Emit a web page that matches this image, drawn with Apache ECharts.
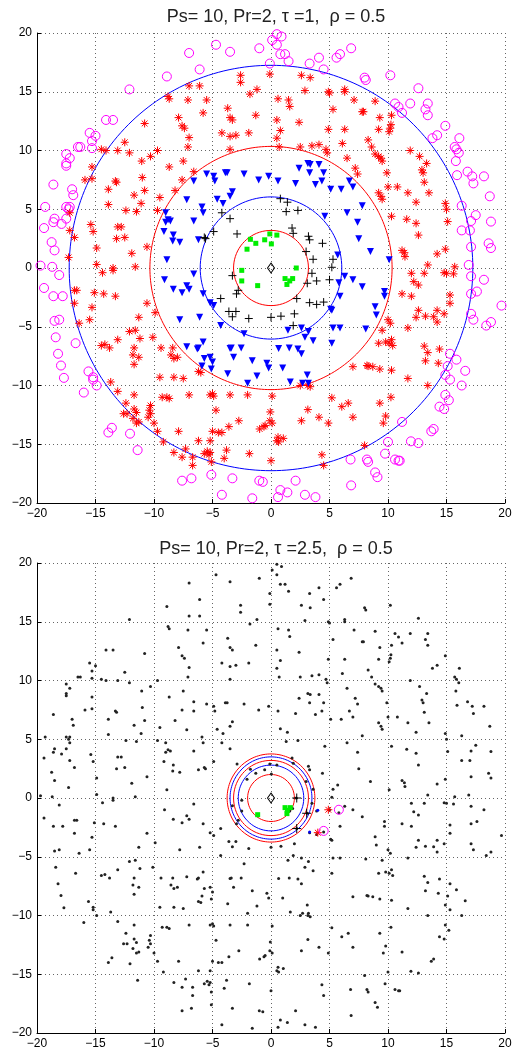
<!DOCTYPE html>
<html>
<head>
<meta charset="utf-8">
<script src="https://cdn.jsdelivr.net/npm/echarts@6/dist/echarts.min.js"></script>
<style>
html,body{margin:0;padding:0;background:#fff;}
#main{width:516px;height:1050px;}
</style>
</head>
<body>
<div id="main"></div>
<script>
/*------------数据：节点坐标（按上图分类）-------------*/
var greenNodes=[[-1.76,2.44],[-1.3,2.1],[-2.05,1.6],[-0.54,2.4],[-0.1,2.9],[0.03,2.05],[0.5,2.8],[-2.5,-0.2],[-2.5,-1.1],[-1.14,-1.5],[2.16,0.0],[1.2,-0.9],[1.6,-1.1],[1.85,-0.9],[1.36,-1.4]];

var plusNodes=[[0.8,5.9],[1.4,5.6],[1.3,4.8],[2.3,4.9],[-4.2,4.7],[-3.5,4.2],[-4.9,3.1],[-5.7,2.6],[-5.6,2.5],[-2.9,2.9],[1.8,3.4],[1.9,2.95],[3.2,2.7],[3.3,2.4],[4.4,2.1],[3.0,1.4],[3.6,0.74],[5.3,0.74],[5.2,0.06],[3.5,-0.45],[3.9,-1.1],[5.0,-1.0],[3.1,-1.3],[-3.3,-0.65],[-2.8,-1.9],[-2.95,-2.2],[2.2,-2.6],[3.3,-2.95],[3.9,-3.1],[4.5,-2.9],[-4.3,-2.6],[-3.6,-3.7],[-3.0,-3.7],[-3.3,-4.15],[-1.9,-4.3],[0,-4.2],[0.85,-4.1],[2.0,-3.9],[1.9,-4.9]];

var triNodes=[[-5.5,8.0],[-4.9,7.8],[-4.8,7.4],[-3.9,8.1],[-3.75,8.1],[-2.3,8.0],[-1.05,7.5],[-0.2,7.8],[-6.6,7.4],[-7.2,5.8],[-4.6,5.85],[-4.1,5.5],[-3.5,6.1],[-3.3,6.5],[-5.9,5.2],[-5.8,4.7],[-9.0,4.7],[-8.8,4.1],[-8.6,4.0],[-9.0,3.9],[-9.15,3.1],[-8.35,2.8],[-8.4,2.3],[-7.8,2.2],[-6.6,4.0],[-6.2,2.4],[-8.9,0.7],
[0.6,7.4],[2.4,8.5],[3.15,8.9],[3.35,8.8],[3.3,8.1],[4.1,8.8],[4.5,8.1],[2.1,7.2],[3.8,7.1],[4.35,7.4],[5.1,6.7],[6.0,6.7],[7.0,6.9],[6.7,7.4],[7.8,5.3],[4.6,4.4],[6.5,4.7],[7.4,3.9],[7.5,2.5],[8.5,1.4],[10.1,0.7],[5.7,1.1],
[-9.1,-1.0],[-8.35,-1.8],[-7.6,-2.1],[-7.2,-1.5],[-7.0,-1.8],[-6.6,-0.5],[-5.8,-2.2],[-5.2,-2.95],[-4.9,-3.2],[-7.8,-4.4],[-6.1,-4.2],[-4.3,-4.9],[-2.3,-5.6],[-7.2,-6.7],[-6.3,-6.9],[-6.2,-6.8],[-5.8,-6.3],[-5.7,-7.7],[-5.2,-7.6],[-5.0,-8.0],[-5.9,-8.35],[-5.1,-8.6],[-3.5,-6.85],[-3.4,-6.8],[-3.2,-7.6],[-2.55,-6.8],[-3.7,-9.0],[-1.6,-7.9],[-1.2,-9.2],[-2.0,-9.8],[-0.35,-8.1],[-0.2,-8.5],
[6.3,-0.7],[5.8,-1.25],[7.0,-1.0],[7.8,-1.6],[5.9,-2.4],[5.1,-3.5],[5.2,-3.6],[9.7,-2.0],[9.7,-2.4],[8.9,-3.3],[9.0,-4.0],[1.45,-5.3],[2.6,-5.1],[3.2,-5.4],[5.3,-5.1],[5.9,-5.1],[8.1,-5.2],[2.9,-5.9],[3.6,-6.2],[5.2,-6.4],[0.65,-6.85],[1.56,-6.8],[2.3,-6.9],[2.6,-7.3],[1.0,-8.5],[1.65,-9.7],[3.1,-9.1],[2.7,-9.8],[3.2,-9.8]];

var starNodes=[[-2.6,16.4],[-2.6,15.8],[-0.1,16.5],[-1.8,14.8],[-1.2,15.2],[-1.3,13.0],[-7.0,15.5],[-6.1,15.5],[-8.8,14.6],[-8.7,14.4],[-7.1,14.3],[-5.5,14.3],[-5.8,13.2],[-3.7,13.6],[-3.5,12.8],[-3.3,12.6],[-7.9,12.8],[-7.6,12.1],[-7.4,11.9],[-7.0,11.1],[-7.1,10.3],[-4.2,11.5],[-3.5,11.2],[-3.0,11.3],[-1.9,11.5],[-3.5,10.1],[-10.8,12.3],[-14.5,10.1],[-14.1,10.0],[-13.1,10.0],[-12.5,10.7],[-12.1,9.8],[-11.05,9.1],[-10.3,9.5],[-9.7,10.0],[-15.3,8.6],[-15.9,7.5],[-15.3,7.6],[-13.3,7.4],[-13.2,7.3],[-13.9,6.7],[-11.0,7.7],[-10.8,6.6],[-11.7,6.2],[-11.1,5.5],[-13.9,5.4],[-12.4,4.9],[-11.5,4.8],[-8.7,8.6],[-7.5,9.1],[-6.6,8.2],[-7.6,7.5],[-8.2,6.6],[-9.5,6.0],[-9.7,4.9],[-15.4,3.7],[-15.2,3.1],[-13.1,3.5],[-12.8,3.5],[-13.2,2.5],[-12.5,2.6],[-17.2,4.7],[-17.2,3.2],[-16.8,2.6],[-17.3,0.9],[-14.9,1.7],[-11.9,1.25],[-10.6,1.8],[-14.9,0.3],[-13.5,0.0],[-11.6,0.1],
[2.6,16.4],[3.35,16.2],[2.9,15.1],[0.6,14.4],[1.5,14.3],[1.6,13.75],[0.5,12.6],[0.8,11.7],[0.5,11.05],[0.7,10.3],[2.4,12.4],[4.9,15.0],[5.0,14.9],[6.3,15.2],[6.3,15.0],[7.1,14.3],[5.3,13.5],[7.8,13.3],[7.9,13.3],[8.9,14.2],[4.9,11.8],[6.3,11.8],[2.5,10.3],[3.5,10.4],[4.1,10.5],[4.7,10.1],[4.8,9.8],[6.1,10.6],[9.3,12.8],[10.3,13.0],[10.25,12.2],[10.2,11.9],[10.1,11.6],[9.2,11.8],[8.3,10.9],[8.6,10.3],[8.9,9.7],[9.2,9.5],[9.4,9.35],[9.5,9.1],[6.5,9.35],[7.2,8.5],[7.4,8.0],[9.9,8.1],[11.9,10.0],[12.7,9.5],[12.9,8.35],[13.0,8.1],[13.3,8.9],[13.1,7.3],[13.5,6.4],[10.0,6.9],[10.8,6.9],[9.2,6.4],[9.4,6.1],[9.5,5.85],[11.7,6.4],[12.4,5.6],[14.9,5.5],[15.0,5.0],[10.3,4.4],[11.6,4.15],[12.4,3.8],[15.1,3.95],[12.6,2.8],[14.9,1.6],[11.2,1.5],[11.4,1.3],[11.45,0.97],[14.2,1.2],[13.4,0.26],[15.7,0.1],
[-14.4,-0.4],[-13.5,-0.2],[-16.8,-1.9],[-16.6,-1.9],[-16.8,-3.0],[-15.1,-2.1],[-14.3,-2.2],[-13.3,-2.4],[-15.3,-3.35],[-16.4,-4.7],[-15.5,-4.4],[-10.6,-3.0],[-9.9,-3.8],[-11.3,-4.2],[-12.1,-5.4],[-11.6,-5.3],[-11.2,-6.0],[-13.1,-6.1],[-14.5,-6.6],[-14.2,-6.5],[-13.8,-6.8],[-11.7,-6.8],[-11.8,-7.4],[-11.3,-7.6],[-11.7,-8.2],[-10.1,-5.9],[-9.4,-6.8],[-8.4,-6.8],[-8.55,-7.4],[-8.3,-7.7],[-8.0,-7.6],[-6.2,-8.8],[-6.0,-8.9],[-9.5,-9.3],[-8.3,-9.3],[-7.5,-9.4],[-13.7,-9.7],[-13.1,-10.5],[-11.7,-10.8],[-8.9,-11.0],[-9.3,-11.0],[-8.7,-11.1],[-7.0,-10.8],[-5.0,-10.7],[-5.2,-10.8],[-4.9,-10.9],[-3.5,-10.8],[-2.0,-10.8],[-4.7,-12.1],[0.1,-10.9],[-12.4,-11.5],[-12.6,-12.4],[-12.3,-12.4],[-11.7,-12.0],[-11.5,-12.3],[-11.5,-13.2],[-11.3,-13.1],[-11.8,-12.8],[-10.3,-11.7],[-10.4,-12.1],[-10.3,-12.4],[-10.5,-12.7],[-10.0,-13.2],[-9.7,-13.9],[-9.2,-14.8],[-7.9,-13.9],[-7.3,-15.4],[-6.2,-14.7],[-8.3,-15.7],[-7.6,-16.1],[-6.7,-16.1],[-6.7,-16.8],[-5.7,-15.8],[-5.45,-15.6],[-5.2,-15.7],[-5.3,-15.9],[-5.1,-16.5],[-5.2,-14.7],[-5.0,-13.9],[-4.5,-14.0],[-4.2,-14.0],[-3.8,-15.5],[-4.0,-16.2],[-3.6,-13.5],[-2.75,-13.0],[-1.85,-15.8],[-0.06,-12.25],[-0.1,-13.0],[-0.97,-13.7],[-0.6,-13.5],[-0.5,-13.4],[0,-16.4],
[12.0,-0.45],[13.1,-0.45],[14.8,-0.4],[15.0,-0.45],[15.6,-0.5],[12.2,-1.16],[12.6,-1.45],[11.2,-2.2],[12.0,-2.4],[15.3,-2.3],[15.3,-3.0],[12.6,-3.6],[12.4,-4.2],[13.2,-4.1],[13.9,-4.15],[14.2,-3.6],[14.2,-4.6],[14.8,-3.9],[10.0,-4.4],[10.2,-4.7],[9.5,-5.3],[11.7,-5.1],[9.8,-6.3],[10.1,-6.4],[10.4,-6.6],[10.3,-6.1],[9.2,-6.4],[13.1,-6.65],[13.4,-7.2],[14.4,-6.9],[13.2,-7.9],[14.3,-8.1],[7.0,-8.4],[8.2,-8.3],[8.3,-8.35],[8.7,-8.4],[9.3,-8.6],[10.3,-8.7],[11.7,-9.4],[13.4,-10.0],[2.5,-10.0],[3.15,-10.0],[3.35,-10.1],[5.2,-11.05],[6.05,-11.8],[6.6,-11.5],[7.0,-12.7],[9.3,-11.5],[10.25,-11.0],[9.8,-12.6],[9.6,-13.2],[3.15,-12.05],[4.1,-12.7],[4.9,-13.2],[2.6,-13.0],[0.1,-13.2],[0.6,-14.4],[0.5,-14.7],[1.05,-14.5],[0.65,-14.8],[8.0,-15.1],[4.35,-15.9],[4.5,-16.8]];

var circNodes=[[-4.7,19.0],[-7.0,18.3],[-3.5,18.4],[-1.0,18.7],[-0.1,17.4],[-6.1,16.9],[-8.9,16.3],[-12.1,15.2],[-14.1,12.6],[-13.5,12.6],[-15.5,11.5],[-15.0,11.25],[-15.3,10.8],[-15.3,10.2],[-16.5,10.3],[-16.3,10.3],[-17.5,9.7],[-17.2,9.35],[-17.5,8.9],[-17.5,8.7],[-18.6,7.1],[-17.0,6.7],[-16.9,6.2],[-19.3,5.2],[-17.5,5.2],[-17.3,5.0],[-17.2,5.2],[-17.5,4.2],[-18.5,4.2],[-18.6,3.9],[-17.9,3.75],[-19.4,3.4],[-18.75,2.2],[-18.5,1.5],[-19.7,0.2],[-18.7,0.1],
[0.1,19.4],[0.5,19.9],[0.9,19.7],[0.5,19.0],[0.8,18.2],[1.2,18.2],[1.5,17.6],[3.3,17.4],[4.1,17.9],[4.5,16.9],[5.6,17.9],[5.9,18.2],[6.85,18.7],[8.0,16.2],[8.1,16.0],[10.2,16.4],[12.6,15.3],[10.6,14.0],[10.9,13.7],[11.2,13.2],[11.9,14.0],[13.4,14.0],[13.2,13.5],[13.4,13.0],[13.8,11.05],[14.2,11.3],[14.9,12.1],[16.1,11.05],[15.7,10.3],[15.85,10.1],[16.05,9.8],[15.8,9.1],[15.9,7.9],[16.8,8.2],[17.2,7.8],[17.3,7.2],[18.2,7.8],[18.7,6.1],[16.3,5.3],[17.5,4.5],[17.1,4.0],[17.0,3.2],[16.3,3.2],[18.8,3.95],[18.6,2.1],[18.8,1.7],[17.1,1.8],
[-18.1,-0.6],[-19.4,-1.7],[-18.6,-2.4],[-17.8,-2.4],[-18.5,-4.5],[-18.1,-4.4],[-18.4,-5.9],[-18.2,-7.3],[-17.95,-8.3],[-17.7,-9.35],[-16.7,-6.4],[-15.6,-8.8],[-15.2,-9.3],[-15.2,-9.5],[-14.9,-10.0],[-16.0,-10.6],[-13.9,-14.0],[-13.6,-13.6],[-12.05,-14.1],[-11.4,-15.5],[-7.6,-18.1],[-6.8,-17.9],[-5.1,-17.6],[-4.2,-19.3],[-3.3,-17.9],[-1.6,-19.6],[-1.0,-18.1],[-0.7,-18.2],
[16.9,0.26],[17.1,-0.7],[18.2,-1.0],[17.1,-2.2],[17.6,-2.0],[19.7,-3.2],[17.1,-3.9],[17.3,-4.4],[18.4,-4.9],[18.8,-4.6],[15.3,-7.3],[15.85,-7.8],[15.1,-8.35],[14.9,-9.1],[15.3,-9.5],[16.6,-8.75],[16.3,-10.0],[14.9,-10.8],[15.2,-11.25],[14.4,-11.8],[14.8,-12.0],[11.2,-13.1],[13.9,-13.7],[13.7,-13.9],[10.0,-14.8],[11.96,-14.75],[12.6,-14.9],[9.75,-15.8],[10.6,-16.3],[10.9,-16.4],[11.0,-16.4],[6.8,-16.3],[8.2,-16.3],[8.3,-16.5],[8.9,-17.4],[9.1,-17.8],[6.85,-18.5],[2.1,-18.1],[0.8,-18.9],[1.4,-19.1],[0.6,-19.5],[2.9,-19.3],[3.8,-19.5]];

var sinkNode=[[0,0]];

/*------------下图中被标记的节点-------------*/
var botGreen=[[1.2,-0.82],[1.4,-1.05],[1.65,-0.82],[1.36,-1.33],[-1.14,-1.42]];
var botPlus=[[2.2,0.0],[3.05,-1.3],[2.2,-2.6]];
var botBlue=[[4.0,-1.05],[3.3,-2.9]];
var botStar=[[4.9,-1.0],[4.0,-2.95]];
var botCirc=[[5.8,-1.0],[4.5,-2.8]];

/*------------圆环半径-------------*/
var topRedR=[3.2,10.35];
var topBlueR=[6.05,17.25];
var botRedR=[2.0,3.2,3.75];
var botBlueR=[2.8,3.5];

var titles=['Ps= 10, Pr=2, \u03c4 =1,  \u03c1 = 0.5','Ps= 10, Pr=2, \u03c4 =2.5,  \u03c1 = 0.5'];

var FONT="'Liberation Sans', Arial, sans-serif";
var STAR='path://M0,-1L0,1M-1,0L1,0M-0.72,-0.72L0.72,0.72M-0.72,0.72L0.72,-0.72';
var PLUS='path://M0,-1L0,1M-1,0L1,0';

function ring(r){
	var pts=[];
	for(var i=0;i<=240;i++){
		var a=i*2*Math.PI/240;
		pts.push([r*Math.cos(a),r*Math.sin(a)]);
	}
	return pts;
}
function minus(v){
	return String(v).replace('-','\u2212');
}
function makeAxis(dim,idx){
	return {
		type:'value',gridIndex:idx,min:-20,max:20,interval:5,
		axisLine:{show:true,onZero:false,lineStyle:{color:'#000',width:1}},
		axisTick:{show:true,inside:true,length:4,lineStyle:{color:'#000'}},
		axisLabel:{color:'#000',fontSize:12,fontFamily:FONT,margin:dim==='x'?5:5,formatter:minus},
		splitLine:{show:true,lineStyle:{color:'#666',width:1,type:[1,3]}}
	};
}
function ringSeries(list,color,idx){
	return list.map(function(r){
		return {type:'line',xAxisIndex:idx,yAxisIndex:idx,data:ring(r),symbol:'none',silent:true,
			lineStyle:{color:color,width:1},z:3};
	});
}
function pts(data,idx,sym,size,fill,border,extra){
	var s={type:'scatter',xAxisIndex:idx,yAxisIndex:idx,data:data,symbol:sym,symbolSize:size,silent:true,
		itemStyle:{color:fill,borderColor:border,borderWidth:border==='none'?0:1,opacity:1},z:4};
	if(extra){for(var k in extra){s[k]=extra[k];}}
	return s;
}

var allNodes=[].concat(greenNodes,plusNodes,triNodes,starNodes,circNodes);

var series=[];
// 上图
series.push(pts(circNodes,0,'circle',9,'none','#ff00ff'));
series.push(pts(starNodes,0,STAR,8,'none','#ff0000'));
series.push(pts(triNodes,0,'triangle',7,'#0000ff','none',{symbolRotate:180}));
series.push(pts(plusNodes,0,PLUS,8,'none','#000000'));
series.push(pts(greenNodes,0,'rect',5,'#00ee00','none'));
series.push(pts(sinkNode,0,'diamond',[7,10],'none','#000000'));
series=series.concat(ringSeries(topRedR,'#ff0000',0),ringSeries(topBlueR,'#0000ff',0));
// 下图
series.push(pts(allNodes,1,'circle',3,'#222222','none'));
series=series.concat(ringSeries(botRedR,'#ff0000',1),ringSeries(botBlueR,'#0000ff',1));
series.push(pts(botGreen,1,'rect',5,'#00ee00','none',{z:5}));
series.push(pts(botPlus,1,PLUS,9,'none','#000000',{z:5}));
series.push(pts(botBlue,1,'circle',3,'#0000ff','none',{z:5}));
series.push(pts(botStar,1,STAR,8,'none','#ff0000',{z:5}));
series.push(pts(botCirc,1,'circle',9,'none','#ff00ff',{z:5}));
series.push(pts(sinkNode,1,'diamond',[7,10],'none','#000000',{z:5}));

var chart=echarts.init(document.getElementById('main'));
chart.setOption({
	animation:false,
	backgroundColor:'#fff',
	title:[
		{text:titles[0],left:271,top:3,textAlign:'center',textStyle:{fontSize:18,fontWeight:'normal',fontFamily:FONT,color:'#222'}},
		{text:titles[1],left:271,top:535,textAlign:'center',textStyle:{fontSize:18,fontWeight:'normal',fontFamily:FONT,color:'#222'}}
	],
	grid:[
		{left:37,top:33,width:468,height:470},
		{left:37,top:563,width:468,height:470}
	],
	xAxis:[makeAxis('x',0),makeAxis('x',1)],
	yAxis:[makeAxis('y',0),makeAxis('y',1)],
	series:series
});
</script>
</body>
</html>
